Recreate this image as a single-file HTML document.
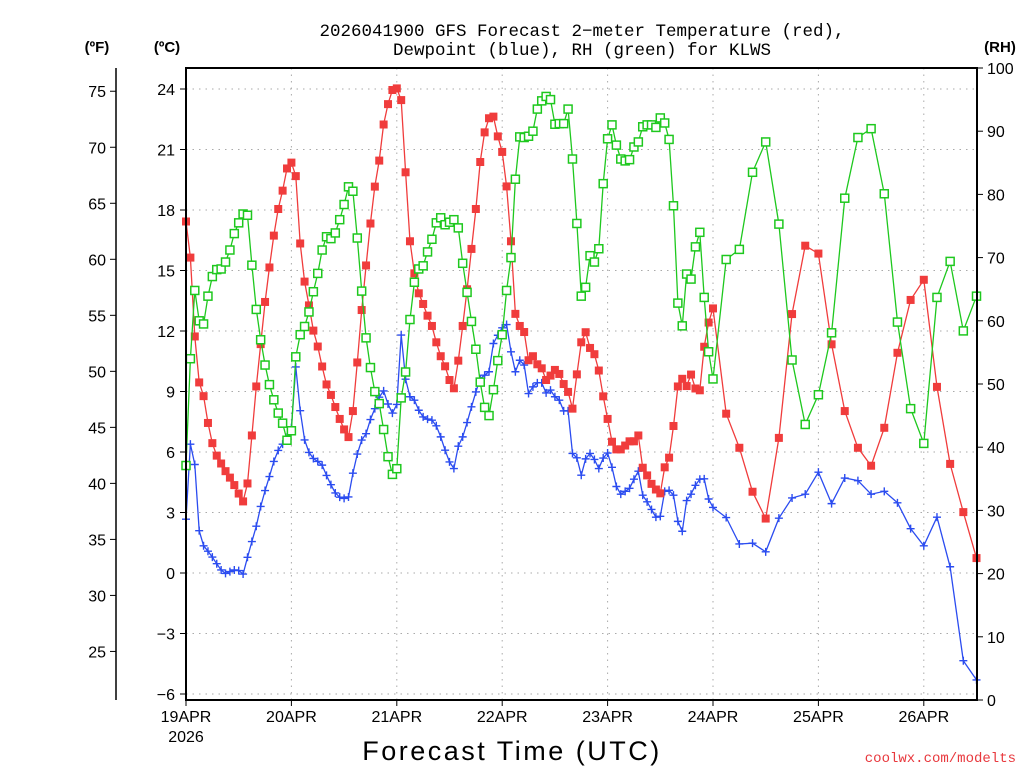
<!DOCTYPE html>
<html><head><meta charset="utf-8"><style>
html,body{margin:0;padding:0;background:#fff;}
svg{display:block;font-family:"Liberation Sans","DejaVu Sans",sans-serif;}
</style></head><body>
<svg id="chart" width="1024" height="768" viewBox="0 0 1024 768" xmlns="http://www.w3.org/2000/svg">
<rect width="1024" height="768" fill="#fff"/>
<text x="582" y="36" text-anchor="middle" font-size="17.5" font-family="Liberation Mono, monospace" fill="#000">2026041900 GFS Forecast 2−meter Temperature (red),</text>
<text x="582" y="55" text-anchor="middle" font-size="17.5" font-family="Liberation Mono, monospace" fill="#000">Dewpoint (blue), RH (green) for KLWS</text>
<text x="97" y="52" text-anchor="middle" font-size="15" font-weight="bold">(ºF)</text>
<text x="167" y="52" text-anchor="middle" font-size="15" font-weight="bold">(ºC)</text>
<text x="1000" y="52" text-anchor="middle" font-size="15" font-weight="bold">(RH)</text>
<g id="grid"></g>
<g id="axes"></g>
<g id="series"></g>
<rect x="186" y="68" width="791" height="632" fill="none" stroke="#000" stroke-width="2"/>
<line x1="116" y1="68" x2="116" y2="700" stroke="#000" stroke-width="1.5"/>
<text x="512" y="760" text-anchor="middle" font-size="27" letter-spacing="2.5" fill="#000">Forecast Time (UTC)</text>
<text x="186" y="742" text-anchor="middle" font-size="16">2026</text>
<text x="1016" y="762" text-anchor="end" font-size="14" font-family="Liberation Mono, monospace" fill="#e8383d">coolwx.com/modelts</text>
</svg>
<script>
const dayLabels = ["19APR","20APR","21APR","22APR","23APR","24APR","25APR","26APR"];
const cTicks = [-6,-3,0,3,6,9,12,15,18,21,24];
const fTicks = [25,30,35,40,45,50,55,60,65,70,75];
const rhTicks = [0,10,20,30,40,50,60,70,80,90,100];
const hoursHourly = 120;
const hours3 = [123,126,129,132,135,138,141,144,147,150,153,156,159,162,165,168,171,174,177,180];
const temp = [17.43,15.64,11.73,9.45,8.77,7.44,6.44,5.82,5.43,5.05,4.73,4.36,3.94,3.55,4.44,6.82,9.25,11.35,13.44,15.15,16.73,18.05,18.96,20.06,20.35,19.68,16.34,14.45,13.27,12.02,11.23,10.24,9.35,8.83,8.23,7.64,7.12,6.74,8.03,10.44,13.04,15.25,17.33,19.16,20.45,22.24,23.25,23.95,24.03,23.45,19.87,16.45,14.86,13.87,13.34,12.76,12.25,11.44,10.75,10.25,9.57,9.16,10.53,12.25,14.07,16.07,18.05,20.38,21.85,22.55,22.63,21.65,20.88,19.17,16.45,12.85,12.25,11.95,10.55,10.75,10.35,10.15,9.57,9.79,10.07,9.87,9.37,8.98,8.15,9.85,11.44,11.94,11.16,10.85,10.04,8.76,7.64,6.51,6.13,6.13,6.32,6.53,6.53,6.82,5.22,4.84,4.42,4.14,3.95,5.24,5.72,7.29,9.25,9.63,9.27,9.84,9.15,9.06,11.22,12.42,13.12,
7.9,6.21,4.03,2.7,6.7,12.84,16.23,15.84,11.34,8.03,6.21,5.32,7.2,10.92,13.54,14.54,9.23,5.41,3.02,0.74];
const dewp = [2.67,6.39,5.38,2.1,1.35,1.08,0.79,0.46,0.15,-0.02,0.07,0.15,0.12,-0.05,0.78,1.56,2.32,3.3,4.09,4.78,5.53,6.08,6.39,6.74,7.21,10.22,8.05,6.6,5.98,5.68,5.53,5.35,4.84,4.38,3.97,3.76,3.7,3.77,4.95,5.9,6.59,6.91,7.61,8.15,8.72,9.03,8.38,7.93,8.36,11.8,9.61,8.74,8.57,8.07,7.74,7.63,7.58,7.3,6.75,6.09,5.51,5.18,6.29,6.75,7.46,8.24,8.98,9.64,9.81,9.98,11.38,11.79,12.16,12.32,10.97,9.98,10.55,10.31,8.9,9.23,9.43,9.43,8.93,9.07,8.74,8.57,8.04,8.04,5.93,5.71,4.85,5.66,5.93,5.63,5.18,5.7,5.95,5.24,4.29,3.91,4.05,4.2,4.65,5.05,3.86,3.53,3.15,2.77,2.81,4.05,4.1,3.86,2.56,2.07,3.59,3.91,4.35,4.65,4.67,3.67,3.25,
2.75,1.44,1.48,1.05,2.72,3.72,3.91,5.0,3.44,4.71,4.58,3.91,4.05,3.48,2.2,1.35,2.77,0.31,-4.35,-5.3];
const rh = [37.1,54.0,64.8,60.0,59.5,63.9,67.0,68.1,68.2,69.3,71.2,73.8,75.5,76.9,76.7,68.8,61.8,57.0,53.0,49.9,47.5,45.4,43.8,41.1,42.6,54.3,57.8,59.1,61.4,64.6,67.5,71.2,73.3,73.0,73.9,76.0,78.4,81.2,80.5,73.1,64.7,57.3,52.6,48.8,46.9,42.8,38.5,35.7,36.6,47.8,51.9,60.2,66.1,68.2,68.7,70.9,72.9,75.5,76.3,75.2,75.6,76.0,74.7,69.1,64.5,59.9,55.5,50.3,46.3,45.0,49.1,53.7,57.8,64.8,70.0,82.4,89.1,89.0,89.2,90.0,93.5,94.8,95.5,95.0,91.1,91.2,91.2,93.5,85.6,75.4,63.9,65.3,70.3,69.3,71.4,81.7,88.8,91.0,87.8,85.6,85.3,85.5,87.5,88.3,90.7,91.0,91.0,90.6,92.1,91.3,88.7,78.2,62.8,59.2,67.4,66.6,71.7,74.0,63.7,55.1,50.8,
69.7,71.3,83.5,88.3,75.3,53.8,43.6,48.3,58.1,79.4,89.0,90.4,80.1,59.8,46.1,40.6,63.7,69.4,58.4,63.9];

const NS = "http://www.w3.org/2000/svg";
const X0 = 186, PXH = 105.4/24;
function xOf(h){ return X0 + h*PXH; }
function yC(c){ return 89 + (24 - c)*20.167; }
function yF(f){ return yC((f-32)/1.8); }
function yRH(r){ return 700 - r*6.32; }
function mk(tag, attrs, parent){ const e=document.createElementNS(NS,tag); for(const k in attrs) e.setAttribute(k,attrs[k]); parent.appendChild(e); return e; }
const hoursAll = [];
for(let h=0; h<=hoursHourly; h++) hoursAll.push(h);
for(const h of hours3) hoursAll.push(h);

const grid = document.getElementById('grid'), axes = document.getElementById('axes'), series = document.getElementById('series');
dayLabels.forEach((d,i)=>{
  const x = xOf(i*24);
  if(i>0){ const l=mk('line',{x1:x,y1:68,x2:x,y2:700,stroke:'#aaa','stroke-width':1,'stroke-dasharray':'1.5,5'},grid);
  
   }
  const t=mk('line',{x1:x,y1:700,x2:x,y2:706,stroke:'#000','stroke-width':1},axes);
  
  
  const tx=mk('text',{x:x,y:722,'text-anchor':'middle','font-size':16},axes);
  tx.textContent=d;
  
  
});
cTicks.forEach(c=>{
  const y=yC(c);
  const g=mk('line',{x1:186,y1:y,x2:977,y2:y,stroke:'#aaa','stroke-width':1,'stroke-dasharray':'1.5,5'},grid);
  
  
  const t=mk('line',{x1:180,y1:y,x2:186,y2:y,stroke:'#000'},axes);
  
  
  const tx=mk('text',{x:175,y:y+6,'text-anchor':'end','font-size':16},axes);
  tx.textContent = c<0 ? '−'+Math.abs(c) : String(c);
  
  
});
fTicks.forEach(f=>{
  const y=yF(f);
  const t=mk('line',{x1:110,y1:y,x2:116,y2:y,stroke:'#000'},axes);
  
  
  const tx=mk('text',{x:106,y:y+6,'text-anchor':'end','font-size':16},axes);
  tx.textContent=String(f);
  
  
});
rhTicks.forEach(r=>{
  const y=yRH(r);
  const t=mk('line',{x1:977,y1:y,x2:983,y2:y,stroke:'#000'},axes);
  
  
  const tx=mk('text',{x:987,y:y+6,'text-anchor':'start','font-size':16},axes);
  tx.textContent=String(r);
  
  
});
function drawLine(vals, yfn, color, name){
  const pts = vals.map((v,i)=>xOf(hoursAll[i]).toFixed(1)+','+yfn(v).toFixed(1)).join(' ');
  const p=mk('polyline',{points:pts,fill:'none',stroke:color,'stroke-width':1.3},series);
  
  
}
drawLine(dewp,yC,'#2b4cf0','dewpoint-line');
dewp.forEach((v,i)=>{
  const x=xOf(hoursAll[i]), y=yC(v);
  const p=mk('path',{d:`M${x-4},${y}H${x+4}M${x},${y-4}V${y+4}`,stroke:'#2b4cf0','stroke-width':1.4,fill:'none'},series);
  
  
});
drawLine(temp,yC,'#f03c3c','temperature-line');
temp.forEach((v,i)=>{
  const x=xOf(hoursAll[i]), y=yC(v);
  const r=mk('rect',{x:x-4,y:y-4,width:8,height:8,fill:'#f03c3c'},series);
  
  
});
drawLine(rh,yRH,'#1ec81e','rh-line');
rh.forEach((v,i)=>{
  const x=xOf(hoursAll[i]), y=yRH(v);
  const r=mk('rect',{x:x-4,y:y-4,width:8,height:8,fill:'#fff',stroke:'#1ec81e','stroke-width':1.5},series);
  
  
});
</script>
</body></html>
